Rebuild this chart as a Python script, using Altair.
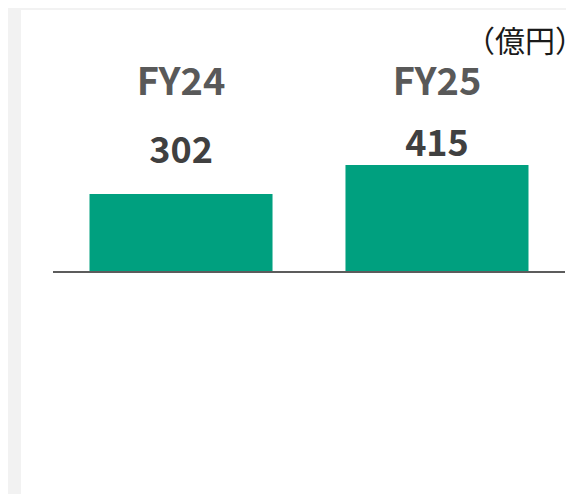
import altair as alt
import pandas as pd

categories = ["FY24", "FY25"]
values = [302, 415]
unit_label = "（億円）"

df = pd.DataFrame({"cat": categories, "value": values, "label": [str(v) for v in values]})

FONT = "Noto Sans CJK JP"
x_enc = alt.X("cat:N", sort=categories, axis=None,
              scale=alt.Scale(domain=categories, range=[45, 557], paddingInner=0.285, paddingOuter=0.1426))
y_scale = alt.Scale(domain=[0, 1000], range=[264, 6])

panel = alt.Chart(pd.DataFrame({"a": [0]})).mark_rect(color="white").encode(
    x=alt.value(13), x2=alt.value(600), y=alt.value(2), y2=alt.value(600))

bars = alt.Chart(df).mark_bar(color="#00a07f").encode(
    x=x_enc, y=alt.Y("value:Q", scale=y_scale, axis=None))

baseline = alt.Chart(pd.DataFrame({"a": [0]})).mark_rule(color="#5c5c5c", strokeWidth=2).encode(
    x=alt.value(45), x2=alt.value(557), y=alt.value(264))

cat_text = alt.Chart(df).mark_text(font=FONT, fontWeight="bold", fontSize=38, color="#595959",
                                   baseline="alphabetic").encode(
    x=x_enc, y=alt.value(87), text="cat:N")

lab1 = alt.Chart(df).transform_filter(alt.datum.cat == "FY24").mark_text(
    font=FONT, fontWeight="bold", fontSize=36, color="#404040", baseline="alphabetic").encode(
    x=x_enc, y=alt.value(155), text="label:N")
lab2 = alt.Chart(df).transform_filter(alt.datum.cat == "FY25").mark_text(
    font=FONT, fontWeight="bold", fontSize=36, color="#404040", baseline="alphabetic").encode(
    x=x_enc, y=alt.value(148), text="label:N")

unit = alt.Chart(pd.DataFrame({"t": [unit_label]})).mark_text(
    font=FONT, fontSize=30, color="#1a1a1a", align="left", baseline="alphabetic").encode(
    x=alt.value(457), y=alt.value(44), text="t:N")

chart = alt.layer(panel, bars, baseline, cat_text, lab1, lab2, unit).properties(
    width=558, height=486, autosize=alt.AutoSizeParams(type="none"), padding=0,
    background="#f2f2f2"
).configure_view(stroke=None)

chart.save("out.html", embed_options={"renderer": "svg", "actions": False})
